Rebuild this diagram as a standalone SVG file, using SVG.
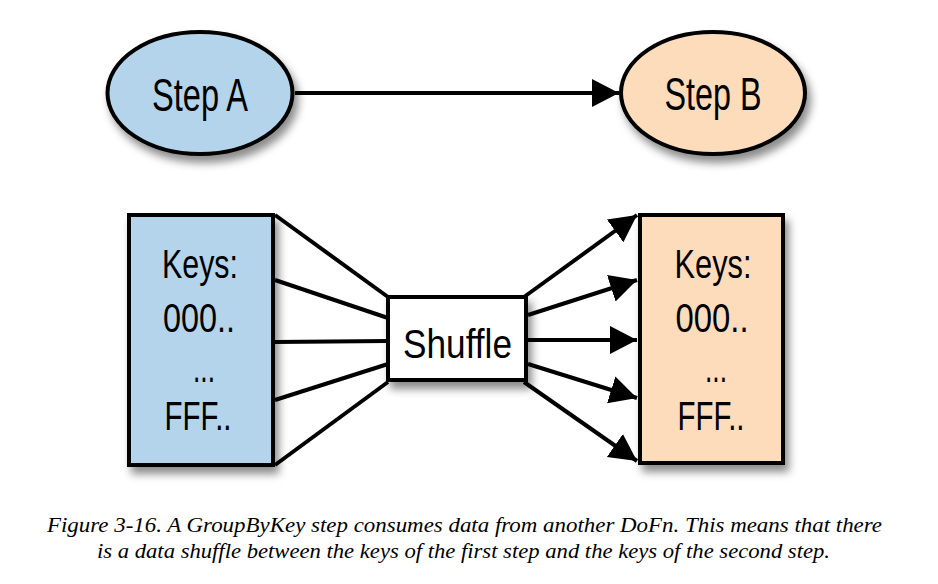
<svg xmlns="http://www.w3.org/2000/svg" width="938" height="584" viewBox="0 0 938 584">
<style>
.node{stroke:#000;stroke-width:4}
.blue{fill:#b4d4eb}
.peach{fill:#fddcbc}
.white{fill:#fff}
.lbl{font-family:"Liberation Sans Narrow","Liberation Sans",Arial,sans-serif;fill:#000;text-anchor:middle}
.big{font-size:47px}
.mid{font-size:40px}
.conn{stroke:#000;stroke-width:4;fill:none}
.cap{font-family:"Liberation Serif","Times New Roman",serif;font-style:italic;font-size:20px;fill:#000;text-anchor:middle}
</style>
<defs>
<filter id="sh" x="-20%" y="-20%" width="150%" height="150%">
<feDropShadow dx="4" dy="7" stdDeviation="4.5" flood-color="#000" flood-opacity="0.45"/>
</filter>
<marker id="ah" markerUnits="userSpaceOnUse" markerWidth="28" markerHeight="30" refX="27" refY="14" orient="auto" viewBox="0 0 28 28">
<path d="M0,0 L27,14 L0,28 z" fill="#000"/>
</marker>
</defs>
<rect width="938" height="584" fill="#fff"/>
<g id="connectors">
<line class="conn" x1="295" y1="93" x2="619" y2="93" marker-end="url(#ah)"/>
<line class="conn" x1="275" y1="215" x2="388" y2="297"/>
<line class="conn" x1="275" y1="280" x2="388" y2="318"/>
<line class="conn" x1="275" y1="342" x2="388" y2="341"/>
<line class="conn" x1="275" y1="400" x2="388" y2="364"/>
<line class="conn" x1="275" y1="465" x2="388" y2="382"/>
<line class="conn" x1="524" y1="297" x2="637" y2="215" marker-end="url(#ah)"/>
<line class="conn" x1="528" y1="315" x2="637" y2="280" marker-end="url(#ah)"/>
<line class="conn" x1="528" y1="340" x2="637" y2="340" marker-end="url(#ah)"/>
<line class="conn" x1="528" y1="364" x2="637" y2="398" marker-end="url(#ah)"/>
<line class="conn" x1="524" y1="382" x2="637" y2="461" marker-end="url(#ah)"/>
</g>
<g id="stepA">
<ellipse class="node blue" cx="200" cy="93" rx="92.5" ry="61" filter="url(#sh)"/>
<text class="lbl big" x="200" y="111" textLength="96" lengthAdjust="spacingAndGlyphs">Step A</text>
</g>
<g id="stepB">
<ellipse class="node peach" cx="713" cy="93" rx="92" ry="61" filter="url(#sh)"/>
<text class="lbl big" x="713" y="110" textLength="97" lengthAdjust="spacingAndGlyphs">Step B</text>
</g>
<g id="keysA">
<rect class="node blue" x="129" y="215" width="144" height="250" filter="url(#sh)"/>
<text class="lbl mid" x="200" y="278" textLength="76" lengthAdjust="spacingAndGlyphs">Keys:</text>
<text class="lbl mid" x="199" y="332" textLength="72" lengthAdjust="spacingAndGlyphs">000..</text>
<text class="lbl mid" x="204" y="382" textLength="22" lengthAdjust="spacingAndGlyphs">...</text>
<text class="lbl mid" x="198" y="430" textLength="67" lengthAdjust="spacingAndGlyphs">FFF..</text>
</g>
<g id="shuffle">
<rect class="node white" x="388" y="297" width="138" height="83" filter="url(#sh)"/>
<text class="lbl mid" x="457.5" y="358" textLength="109" lengthAdjust="spacingAndGlyphs">Shuffle</text>
</g>
<g id="keysB">
<rect class="node peach" x="640" y="215" width="143" height="248" filter="url(#sh)"/>
<text class="lbl mid" x="713" y="278" textLength="77" lengthAdjust="spacingAndGlyphs">Keys:</text>
<text class="lbl mid" x="712" y="332" textLength="73" lengthAdjust="spacingAndGlyphs">000..</text>
<text class="lbl mid" x="716" y="382" textLength="22" lengthAdjust="spacingAndGlyphs">...</text>
<text class="lbl mid" x="711" y="430" textLength="67" lengthAdjust="spacingAndGlyphs">FFF..</text>
</g>
<g id="caption">
<text class="cap" x="464.5" y="532" textLength="835" lengthAdjust="spacingAndGlyphs">Figure 3-16. A GroupByKey step consumes data from another DoFn. This means that there</text>
<text class="cap" x="463.5" y="558" textLength="733" lengthAdjust="spacingAndGlyphs">is a data shuffle between the keys of the first step and the keys of the second step.</text>
</g>
</svg>
